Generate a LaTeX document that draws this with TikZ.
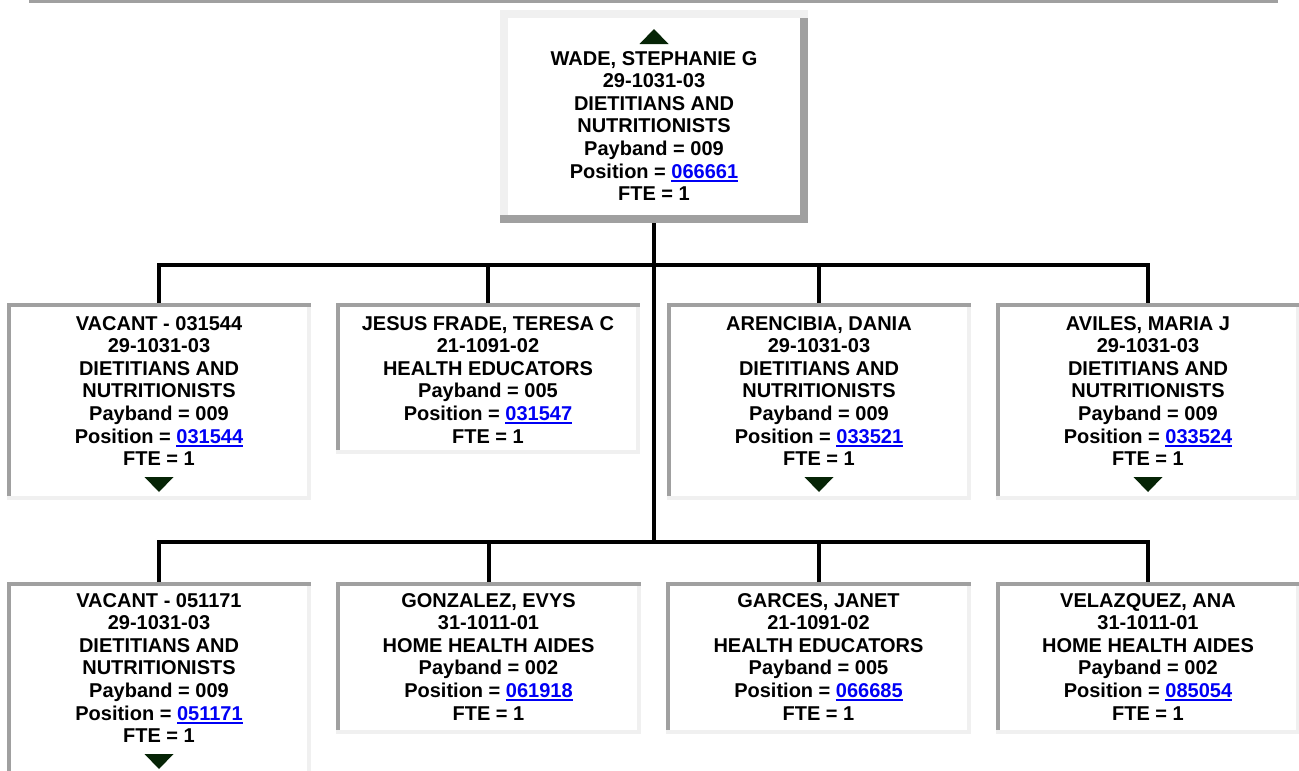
\documentclass[tikz,border=0pt]{standalone}
\usepackage{fontspec}
\setmainfont{Liberation Sans}
\definecolor{dg}{RGB}{160,160,160}
\definecolor{lg}{RGB}{240,240,240}
\definecolor{tri}{RGB}{6,36,6}
\definecolor{linkblue}{RGB}{0,0,245}
\newcommand\lnk[1]{\textcolor{linkblue}{\setbox0\hbox{#1}\rlap{\rule[-3.6pt]{\wd0}{1.9pt}}\box0}}
\tikzset{
  cbox/.style={inner sep=0pt, outer sep=0pt, anchor=north west, fill=white, path picture={
    \fill[lg] (path picture bounding box.south west) rectangle (path picture bounding box.north east);
    \fill[dg] (path picture bounding box.north west) rectangle ([yshift=-4pt]path picture bounding box.north east);
    \fill[dg] (path picture bounding box.north west) rectangle ([xshift=4pt,yshift=4pt]path picture bounding box.south west);
    \fill[white] ([xshift=4pt,yshift=-4pt]path picture bounding box.north west) rectangle ([xshift=-4pt,yshift=4pt]path picture bounding box.south east);
  }},
  obox/.style={inner sep=0pt, outer sep=0pt, anchor=north west, fill=white, path picture={
    \fill[dg] (path picture bounding box.south west) rectangle (path picture bounding box.north east);
    \fill[lg] (path picture bounding box.north west) rectangle ([yshift=-8pt]path picture bounding box.north east);
    \fill[lg] (path picture bounding box.north west) rectangle ([xshift=8pt,yshift=8pt]path picture bounding box.south west);
    \fill[white] ([xshift=8pt,yshift=-8pt]path picture bounding box.north west) rectangle ([xshift=-8pt,yshift=8pt]path picture bounding box.south east);
  }},
  txt/.style={inner sep=0pt, outer sep=0pt, anchor=north, align=center, text=black,
    font=\fontsize{20}{22.6}\selectfont\bfseries},
  conn/.style={line width=4pt, draw=black},
  tridown/.style={fill=tri},
}
\newcommand\downtri[2]{\fill[tridown] ([shift={(-14.5,#2)}]#1) -- ([shift={(14.5,#2)}]#1) -- ([shift={(0,#2+15)}]#1) -- cycle;}
\begin{document}
\begin{tikzpicture}[x=1pt,y=-1pt]
\useasboundingbox (0,0) rectangle (1299,771);
\clip (0,0) rectangle (1299,771);
\fill[dg] (29,0) rectangle (1278,3);

% top box
\node[obox, minimum width=308pt, minimum height=213pt] (T) at (500,10) {};
\node[txt] (tT) at (654,49.2) {\strut WADE, STEPHANIE G\\29-1031-03\\DIETITIANS AND\\NUTRITIONISTS\\Payband = 009\\Position = \lnk{066661}\\FTE = 1};
\fill[tridown] ([shift={(-14.5,-21)}]tT.north |- 0,65) -- ([shift={(14.5,-21)}]tT.north |- 0,65) -- ([shift={(0,-36)}]tT.north |- 0,65) -- cycle;

% row 1
\node[cbox, minimum width=304pt, minimum height=197pt] (b1) at (7,303) {};
\node[cbox, minimum width=304pt, minimum height=151pt] (b2) at (336,303) {};
\node[cbox, minimum width=304pt, minimum height=197pt] (b3) at (667,303) {};
\node[cbox, minimum width=304pt, minimum height=197pt] (b4) at (996,303) {};

\node[txt] (t1) at (b1.north |- 0,314.2) {\strut VACANT - 031544\\29-1031-03\\DIETITIANS AND\\NUTRITIONISTS\\Payband = 009\\Position = \lnk{031544}\\FTE = 1};
\node[txt] (t2) at (b2.north |- 0,314.2) {\strut JESUS FRADE, TERESA C\\21-1091-02\\HEALTH EDUCATORS\\Payband = 005\\Position = \lnk{031547}\\FTE = 1};
\node[txt] (t3) at (b3.north |- 0,314.2) {\strut ARENCIBIA, DANIA\\29-1031-03\\DIETITIANS AND\\NUTRITIONISTS\\Payband = 009\\Position = \lnk{033521}\\FTE = 1};
\node[txt] (t4) at (b4.north |- 0,314.2) {\strut AVILES, MARIA J\\29-1031-03\\DIETITIANS AND\\NUTRITIONISTS\\Payband = 009\\Position = \lnk{033524}\\FTE = 1};
\downtri{b1.north}{174}
\downtri{b3.north}{174}
\downtri{b4.north}{174}

% row 2
\node[cbox, minimum width=304pt, minimum height=200pt] (b5) at (7,582) {};
\node[cbox, minimum width=305pt, minimum height=152pt] (b6) at (336,582) {};
\node[cbox, minimum width=305pt, minimum height=152pt] (b7) at (666,582) {};
\node[cbox, minimum width=304pt, minimum height=152pt] (b8) at (996,582) {};

\node[txt] (t5) at (b5.north |- 0,591.2) {\strut VACANT - 051171\\29-1031-03\\DIETITIANS AND\\NUTRITIONISTS\\Payband = 009\\Position = \lnk{051171}\\FTE = 1};
\node[txt] (t6) at (b6.north |- 0,591.2) {\strut GONZALEZ, EVYS\\31-1011-01\\HOME HEALTH AIDES\\Payband = 002\\Position = \lnk{061918}\\FTE = 1};
\node[txt] (t7) at (b7.north |- 0,591.2) {\strut GARCES, JANET\\21-1091-02\\HEALTH EDUCATORS\\Payband = 005\\Position = \lnk{066685}\\FTE = 1};
\node[txt] (t8) at (b8.north |- 0,591.2) {\strut VELAZQUEZ, ANA\\31-1011-01\\HOME HEALTH AIDES\\Payband = 002\\Position = \lnk{085054}\\FTE = 1};
\downtri{b5.north}{172}

% connectors
\coordinate (j2) at (T.south |- 0,542);
\draw[conn] (T.south) -- (j2);
\draw[conn] (b1.north) -- ++(0,-38) -| (b4.north);
\draw[conn] (b2.north) -- ++(0,-38);
\draw[conn] (b3.north) -- ++(0,-38);
\draw[conn] (b5.north) -- ++(0,-40) -| (b8.north);
\draw[conn] (b6.north) -- ++(0,-40);
\draw[conn] (b7.north) -- ++(0,-40);
\end{tikzpicture}
\end{document}
